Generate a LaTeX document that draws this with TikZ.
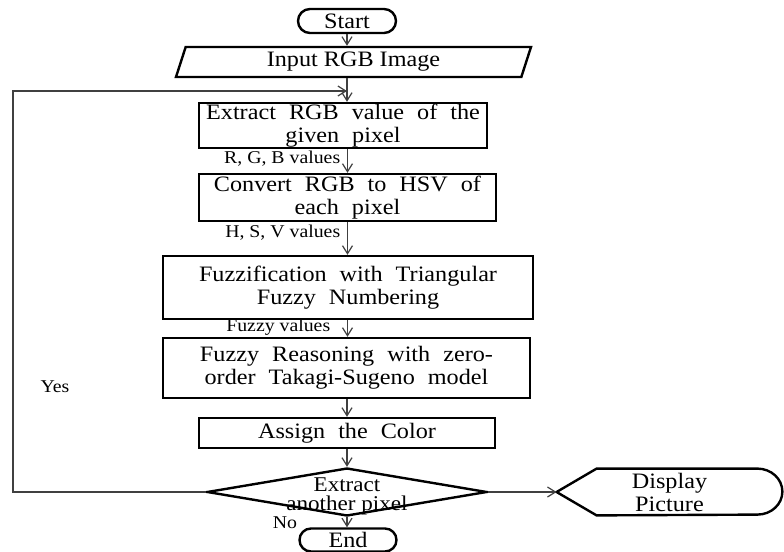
\documentclass[tikz,border=0pt]{standalone}
\usepackage{fontspec}
\setmainfont{Liberation Serif}[FakeStretch=1.1]
\usetikzlibrary{shapes.geometric, shapes.misc, arrows.meta}

\newcommand{\boxfont}{\fontsize{11}{11.5}\selectfont\spaceskip=6.5pt\relax}

\begin{document}
\begin{tikzpicture}[
    x=0.5pt, y=-0.5pt,
    box/.style={rectangle, draw, line width=1.2pt, align=center, inner sep=0pt, font=\boxfont},
    terminal/.style={rounded rectangle, draw, line width=1.2pt, inner sep=0pt, font=\fontsize{11}{11.5}\selectfont},
    io/.style={trapezium, trapezium left angle=63.4, trapezium right angle=116.6, trapezium stretches body, draw, line width=1.2pt, inner sep=0pt, font=\fontsize{11}{11.5}\selectfont},
    decision/.style={diamond, draw, line width=1.2pt, inner sep=0pt},
    note/.style={text=black, font=\fontsize{9}{9.5}\selectfont},
    arrow/.style={-{Straight Barb[length=4pt, width=5pt]}, line width=0.6pt, color=black!75},
]
\useasboundingbox (0,0) rectangle (784,552);

\node[terminal, minimum width=49pt, minimum height=12pt] (start) at (347,21) {Start};
\node[io, minimum width=177.5pt, minimum height=15pt] (input) at (353.5,62) {Input RGB Image};
\node[box, minimum width=144pt, minimum height=22.5pt] (extract) at (343,125.5) {Extract RGB value of the\\given pixel};
\node[box, minimum width=148.5pt, minimum height=23.5pt] (convert) at (347.5,197.5) {Convert RGB to HSV of\\each pixel};
\node[box, minimum width=185pt, minimum height=31.5pt] (fuzzify) at (348,287.5) {Fuzzification with Triangular\\Fuzzy Numbering};
\node[box, minimum width=183.5pt, minimum height=30pt] (reason) at (346.5,368) {Fuzzy Reasoning with zero-\\order Takagi-Sugeno model};
\node[box, minimum width=148pt, minimum height=15pt] (assign) at (347,433) {Assign the Color};
\node[decision, minimum width=140pt, minimum height=24pt] (decide) at (347,492) {};
\node[align=center, font=\fontsize{10.5}{9.5}\selectfont] (decidetext) at (347,496) {Extract\\another pixel};
\node[minimum width=112.5pt, minimum height=23pt, inner sep=0pt, align=center, font=\fontsize{11}{11.5}\selectfont] (display) at (669.5,492) {Display\\Picture};
\node[terminal, minimum width=48.5pt, minimum height=11.5pt] (stop) at (348,540) {End};

% display outline
\draw[line width=1.2pt] (display.west) -- ([xshift=20pt]display.north west) -- ([xshift=-12.5pt]display.north east)
    arc[start angle=90, end angle=-90, x radius=12.5pt, y radius=11.5pt] -- ([xshift=20pt]display.south west) -- cycle;

\coordinate (join) at (347,91);
\coordinate (loopleft) at (13,492);

\draw[arrow] (start.south) -- (start.south |- input.north);
\draw[arrow] (start.south |- input.south) -- (start.south |- extract.north);
\draw[arrow] (convert.north |- extract.south) -- node[note, left, pos=0.38] {R, G, B values} (convert.north);
\draw[arrow] (convert.south) -- node[note, left, pos=0.33] {H, S, V values} (convert.south |- fuzzify.north);
\draw[arrow] (convert.south |- fuzzify.south) -- node[note, left, pos=0.4, xshift=-5pt] {Fuzzy values} (convert.south |- reason.north);
\draw[arrow] (assign.north |- reason.south) -- (assign.north);
\draw[arrow] (assign.south) -- (decide.north);
\draw[arrow] (decide.south) -- (decide.south |- stop.north);
\draw[arrow] (decide.east) -- (display.west);
\draw[arrow] (decide.west) -- (loopleft) |- (join);

\node[note] (yes) at (55,387) {Yes};
\node[note] (no) at (285,523) {No};

\end{tikzpicture}
\end{document}
